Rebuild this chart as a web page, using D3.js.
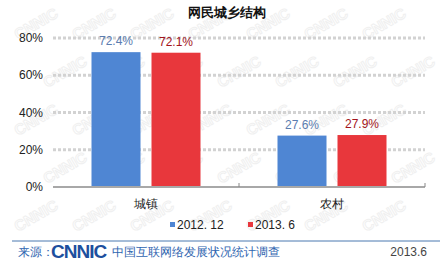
<!DOCTYPE html>
<html>
<head>
<meta charset="utf-8">
<script src="https://cdn.jsdelivr.net/npm/d3@7"></script>
<style>
  body { margin: 0; background: #fff; }
  svg { display: block; font-family: "Liberation Sans", Arial, sans-serif; }
</style>
</head>
<body>
<div id="chart"></div>
<script>
// data
const categories = ["城镇", "农村"]
const seriesNames = ["2012. 12", "2013. 6"]
const values2012 = [0.724, 0.276]
const values2013 = [0.721, 0.279]
const valueLabels2012 = ["72.4%", "27.6%"]
const valueLabels2013 = ["72.1%", "27.9%"]
const yTicks = [0, 0.2, 0.4, 0.6, 0.8]

const barColors = ["#4f86d3", "#e8373c"]
const labelColors = ["#5b7db0", "#a3141c"]

// dimensions
const width = 445, height = 264
const margin = { top: 38, right: 20, bottom: 77, left: 53 }
const boundedWidth = width - margin.left - margin.right
const boundedHeight = height - margin.top - margin.bottom

const svg = d3.select("#chart").append("svg")
    .attr("width", width)
    .attr("height", height)

// faint watermark, kept inside the picture
const wm = svg.append("g")
for (let r = 0; r < 5; r++) {
    for (let c = 0; c < 7; c++) {
        wm.append("text")
            .attr("transform", `translate(${c * 58 + 18 + (r % 2) * 29},${r * 48 + 40}) rotate(-30)`)
            .attr("fill", "none")
            .attr("stroke", "#f0f0f0")
            .attr("stroke-width", 1)
            .style("font-size", "15px")
            .style("font-weight", "bold")
            .text("CNNIC")
    }
}

const bounds = svg.append("g")
    .attr("transform", `translate(${margin.left},${margin.top})`)

// scales
const yScale = d3.scaleLinear()
    .domain([0, 0.8])
    .range([boundedHeight, 0])

const xScale = d3.scaleBand()
    .domain(categories)
    .range([0, boundedWidth])

const groupWidth = 109
const innerScale = d3.scaleBand()
    .domain(seriesNames)
    .range([0, groupWidth])
    .paddingInner(0.1833)

// gridlines
bounds.selectAll(".grid")
    .data(yTicks.filter(d => d > 0))
    .join("line")
    .attr("x1", 0)
    .attr("x2", boundedWidth)
    .attr("y1", d => yScale(d))
    .attr("y2", d => yScale(d))
    .attr("stroke", "#d2d2d2")
    .attr("stroke-width", 3)
    .attr("stroke-dasharray", "3,2")

// y tick labels
bounds.selectAll(".ylab")
    .data(yTicks)
    .join("text")
    .attr("x", -10)
    .attr("y", d => yScale(d))
    .attr("dy", "0.35em")
    .attr("text-anchor", "end")
    .attr("fill", "#222")
    .style("font-size", "12px")
    .text(d => d3.format(".0%")(d))

// bars
const seriesData = [values2012, values2013]
const seriesLabels = [valueLabels2012, valueLabels2013]
const groups = bounds.selectAll(".cat")
    .data(categories)
    .join("g")
    .attr("transform", d => `translate(${xScale(d) + xScale.bandwidth() / 2 - groupWidth / 2},0)`)

seriesNames.forEach((s, si) => {
    groups.append("rect")
        .attr("x", innerScale(s))
        .attr("y", (d, i) => yScale(seriesData[si][i]))
        .attr("width", innerScale.bandwidth())
        .attr("height", (d, i) => boundedHeight - yScale(seriesData[si][i]))
        .attr("fill", barColors[si])

    groups.append("text")
        .attr("x", innerScale(s) + innerScale.bandwidth() / 2)
        .attr("y", (d, i) => yScale(seriesData[si][i]) - 7)
        .attr("text-anchor", "middle")
        .attr("fill", labelColors[si])
        .style("font-size", "12px")
        .text((d, i) => seriesLabels[si][i])
})

// x axis
const xAxis = bounds.append("g")
    .attr("transform", `translate(0,${boundedHeight})`)
xAxis.append("line")
    .attr("x1", 0).attr("x2", boundedWidth)
    .attr("stroke", "#a8a8a8").attr("stroke-width", 2)
xAxis.selectAll(".tick")
    .data(categories.slice(1).map(c => xScale(c)).concat([boundedWidth]))
    .join("line")
    .attr("x1", d => d).attr("x2", d => d)
    .attr("y1", -4).attr("y2", 0)
    .attr("stroke", "#888")
xAxis.selectAll(".xlab")
    .data(categories)
    .join("text")
    .attr("x", d => xScale(d) + xScale.bandwidth() / 2)
    .attr("y", 21)
    .attr("text-anchor", "middle")
    .attr("fill", "#222")
    .style("font-size", "12px")
    .text(d => d)

// legend
const legendX = [170, 248]
const legend = svg.append("g")
seriesNames.forEach((s, i) => {
    legend.append("rect")
        .attr("x", legendX[i]).attr("y", 222)
        .attr("width", 5).attr("height", 5)
        .attr("fill", barColors[i])
    legend.append("text")
        .attr("x", legendX[i] + 7).attr("y", 229)
        .attr("fill", "#222")
        .style("font-size", "12px")
        .text(s)
})

// title
svg.append("text")
    .attr("x", 227).attr("y", 17)
    .attr("text-anchor", "middle")
    .attr("fill", "#111")
    .style("font-size", "13px")
    .style("font-weight", "bold")
    .text("网民城乡结构")

// footer
svg.append("line")
    .attr("x1", 12).attr("x2", 440)
    .attr("y1", 241).attr("y2", 241)
    .attr("stroke", "#4a78b0").attr("stroke-width", 1)
svg.append("text")
    .attr("x", 18).attr("y", 256)
    .attr("fill", "#2f65b0")
    .style("font-size", "12px")
    .text("来源：")
svg.append("text")
    .attr("x", 51).attr("y", 258)
    .attr("fill", "#1d4f9e")
    .style("font-size", "19px")
    .style("font-weight", "900")
    .style("letter-spacing", "-1px")
    .text("CNNIC")
svg.append("text")
    .attr("x", 112).attr("y", 256)
    .attr("fill", "#2f65b0")
    .style("font-size", "12px")
    .text("中国互联网络发展状况统计调查")
svg.append("text")
    .attr("x", 427).attr("y", 256)
    .attr("text-anchor", "end")
    .attr("fill", "#444")
    .style("font-size", "12px")
    .text("2013.6")
</script>
</body>
</html>
